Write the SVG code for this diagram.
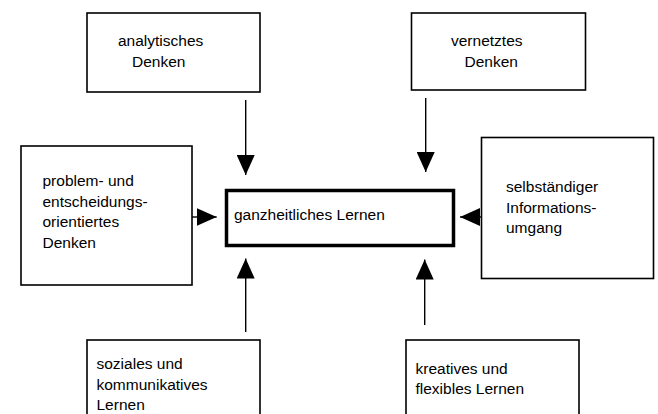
<svg xmlns="http://www.w3.org/2000/svg" width="658" height="414" viewBox="0 0 658 414">
<defs>
<style>
.box{fill:#fff;stroke:#000;stroke-width:1.6}
.main{fill:#fff;stroke:#000;stroke-width:3.5}
text{font-family:"Liberation Sans",Arial,sans-serif;font-size:15.5px;fill:#000}
.con{stroke:#000;stroke-width:1.4;fill:none}
</style>
<marker id="ah" markerUnits="userSpaceOnUse" markerWidth="20" markerHeight="18" viewBox="0 0 20 18" refX="20" refY="9" orient="auto">
<path d="M0,0 L20,9 L0,18 Z" fill="#000"/>
</marker>
</defs>
<rect width="658" height="414" fill="#fff"/>
<g id="connectors">
<line class="con" x1="245.7" y1="100" x2="245.7" y2="175" marker-end="url(#ah)"/>
<line class="con" x1="425.7" y1="98" x2="425.7" y2="172" marker-end="url(#ah)"/>
<line class="con" x1="190" y1="217" x2="216.7" y2="217" marker-end="url(#ah)"/>
<line class="con" x1="481" y1="217" x2="460" y2="217" marker-end="url(#ah)"/>
<line class="con" x1="245.7" y1="332" x2="245.7" y2="258.5" marker-end="url(#ah)"/>
<line class="con" x1="424.7" y1="325" x2="424.7" y2="259.5" marker-end="url(#ah)"/>
</g>
<g id="analytisch">
<rect class="box" x="87" y="13" width="173" height="79"/>
<text x="118" y="46">analytisches</text>
<text x="132" y="67">Denken</text>
</g>
<g id="vernetzt">
<rect class="box" x="411.5" y="13" width="174" height="77"/>
<text x="451" y="46">vernetztes</text>
<text x="464.5" y="67">Denken</text>
</g>
<g id="problem">
<rect class="box" x="21" y="146" width="171" height="139"/>
<text x="42.5" y="186">problem- und</text>
<text x="42.5" y="206.5">entscheidungs-</text>
<text x="42.5" y="227">orientiertes</text>
<text x="42.5" y="248">Denken</text>
</g>
<g id="ganzheitlich">
<rect class="main" x="226.5" y="190.5" width="227" height="55"/>
<text x="234" y="220">ganzheitliches Lernen</text>
</g>
<g id="selbstaendig">
<rect class="box" x="481.5" y="137.5" width="172" height="141"/>
<text x="506" y="191.5">selbständiger</text>
<text x="506" y="212.5">Informations-</text>
<text x="506" y="233">umgang</text>
</g>
<g id="sozial">
<rect class="box" x="87" y="340" width="173" height="85"/>
<text x="96.5" y="369">soziales und</text>
<text x="96.5" y="389.5">kommunikatives</text>
<text x="96.5" y="410">Lernen</text>
</g>
<g id="kreativ">
<rect class="box" x="406" y="340" width="173" height="85"/>
<text x="415.5" y="373.5">kreatives und</text>
<text x="415.5" y="394">flexibles Lernen</text>
</g>
</svg>
